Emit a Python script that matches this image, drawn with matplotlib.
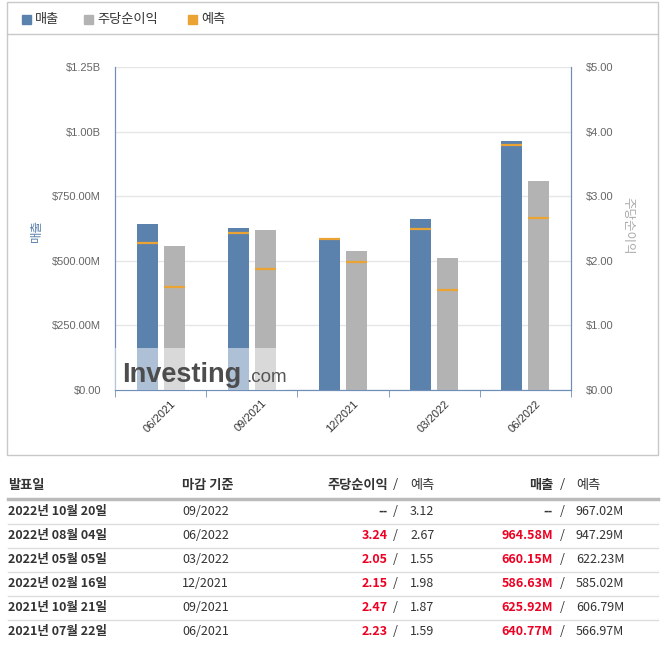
import numpy as np
import matplotlib.pyplot as plt
import matplotlib.transforms as mtransforms
from matplotlib.patches import Rectangle
from matplotlib.lines import Line2D

plt.rcParams['font.family'] = ['Noto Sans CJK KR', 'DejaVu Sans']

# quarterly results (revenue in millions of $, EPS in $)
periods = ['06/2021', '09/2021', '12/2021', '03/2022', '06/2022']
revenue = [640.77, 625.92, 586.63, 660.15, 964.58]
revenue_fc = [566.97, 606.79, 585.02, 622.23, 947.29]
eps = [2.23, 2.47, 2.15, 2.05, 3.24]
eps_fc = [1.59, 1.87, 1.98, 1.55, 2.67]

# table rows (newest first)
tbl_dates = ['2022년 10월 20일', '2022년 08월 04일', '2022년 05월 05일',
             '2022년 02월 16일', '2021년 10월 21일', '2021년 07월 22일']
tbl_period = ['09/2022', '06/2022', '03/2022', '12/2021', '09/2021', '06/2021']
tbl_eps = ['--', '3.24', '2.05', '2.15', '2.47', '2.23']
tbl_eps_fc = ['3.12', '2.67', '1.55', '1.98', '1.87', '1.59']
tbl_rev = ['--', '964.58M', '660.15M', '586.63M', '625.92M', '640.77M']
tbl_rev_fc = ['967.02M', '947.29M', '622.23M', '585.02M', '606.79M', '566.97M']

W, H = 661, 647
blue = '#5b82ad'
gray = '#b3b3b3'
orange = '#eba433'
spine_c = '#6f8fb8'
latin = ['Liberation Sans', 'DejaVu Sans']

fig = plt.figure(figsize=(W / 100, H / 100), dpi=100)

def fx(px):
    return px / W

def fy(py):
    return 1 - py / H

# panel border and legend separator
fig.patches.append(Rectangle((fx(7), fy(455)), fx(651), fy(2) - fy(455),
                             transform=fig.transFigure, fill=False, ec='#c8c8c8', lw=1))
fig.add_artist(Line2D([fx(7), fx(658)], [fy(34), fy(34)], color='#c8c8c8', lw=1))

# legend
for x0, c, lab in [(22, blue, '매출'), (84, gray, '주당순이익'), (188, orange, '예측')]:
    fig.patches.append(Rectangle((fx(x0), fy(24)), fx(9), fy(15) - fy(24),
                                 transform=fig.transFigure, color=c))
    fig.text(fx(x0 + 13), fy(19.5), lab, fontsize=9.5, color='#333333', va='center')

ax = fig.add_axes([fx(115), fy(390), fx(571) - fx(115), fy(67) - fy(390)])
ax2 = ax.twinx()

x = np.arange(len(periods))
bw = 0.23
off = 0.148

ax.bar(x - off, revenue, width=bw, color=blue, zorder=2)
ax.hlines(revenue_fc, x - off - bw / 2, x - off + bw / 2, color=orange, lw=1.6, zorder=3)
ax2.bar(x + off, eps, width=bw, color=gray, zorder=2)
ax2.hlines(eps_fc, x + off - bw / 2, x + off + bw / 2, color=orange, lw=1.6, zorder=3)

ax.set_xlim(-0.5, len(periods) - 0.5)
ax.set_ylim(0, 1250)
ax2.set_ylim(0, 5)
ax.set_yticks([0, 250, 500, 750, 1000, 1250])
ax.set_yticklabels(['$0.00', '$250.00M', '$500.00M', '$750.00M', '$1.00B', '$1.25B'])
ax2.set_yticks([0, 1, 2, 3, 4, 5])
ax2.set_yticklabels(['$%.2f' % v for v in range(6)])
ax.grid(axis='y', color='#e6e6e6', lw=1, zorder=0)
ax.set_axisbelow(True)

for a in (ax, ax2):
    for s in a.spines.values():
        s.set_color(spine_c)
    a.spines['top'].set_visible(False)
    a.tick_params(axis='y', length=0)
ax.tick_params(axis='y', labelsize=8, labelcolor='#666666', pad=10)
ax2.tick_params(axis='y', labelsize=8, labelcolor='#666666', pad=11)
for t in ax.get_yticklabels() + ax2.get_yticklabels():
    t.set_family(latin)

ax.set_xticks(x)
ax.set_xticklabels(periods, rotation=45, ha='right', rotation_mode='anchor',
                   fontsize=8, color='#333333', family=latin)
ax.tick_params(axis='x', which='major', length=0, pad=6)
ax.set_xticks(np.arange(-0.5, len(periods)), minor=True)
ax.tick_params(axis='x', which='minor', length=5, color=spine_c)
shift = mtransforms.ScaledTranslation(10 / 100, 0, fig.dpi_scale_trans)
for t in ax.get_xticklabels():
    t.set_transform(t.get_transform() + shift)

fig.text(fx(36), fy(230), '매출', rotation=90, fontsize=9, color=blue, ha='center', va='center')
fig.text(fx(628), fy(226), '주당순이익', rotation=270, fontsize=9, color='#aaaaaa',
         ha='center', va='center')

# watermark
ax2.add_patch(Rectangle((0, 0), (285 - 115) / 456, (390 - 348) / 323, transform=ax2.transAxes,
                        color='white', alpha=0.5, lw=0, zorder=5))
fig.text(fx(122), fy(382), 'Investing', fontsize=19.5, fontweight='bold', color='#4d4d4d',
         family=latin, zorder=6)
fig.text(fx(246), fy(382), '.com', fontsize=13.5, color='#555555', family=latin, zorder=6)

# table
hdr_y = 485
hs = 9.5
fig.text(fx(8), fy(hdr_y), '발표일', fontsize=hs, fontweight='bold', color='#333333', va='center')
fig.text(fx(182), fy(hdr_y), '마감 기준', fontsize=hs, fontweight='bold', color='#333333', va='center')
fig.text(fx(388), fy(hdr_y), '주당순이익', fontsize=hs, fontweight='bold', color='#333333',
         va='center', ha='right')
fig.text(fx(393), fy(hdr_y), '/', fontsize=hs, color='#333333', va='center')
fig.text(fx(410), fy(hdr_y), '예측', fontsize=hs, color='#333333', va='center')
fig.text(fx(553), fy(hdr_y), '매출', fontsize=hs, fontweight='bold', color='#333333',
         va='center', ha='right')
fig.text(fx(560), fy(hdr_y), '/', fontsize=hs, color='#333333', va='center')
fig.text(fx(576), fy(hdr_y), '예측', fontsize=hs, color='#333333', va='center')
fig.add_artist(Line2D([fx(8), fx(658)], [fy(499), fy(499)], color='#bbbbbb', lw=2.5))

rs = 9
for i in range(len(tbl_dates)):
    ry = 511.5 + 24 * i
    if i > 0:
        fig.add_artist(Line2D([fx(8), fx(658)], [fy(ry - 12), fy(ry - 12)], color='#dddddd', lw=1))
    fig.text(fx(8), fy(ry), tbl_dates[i], fontsize=rs, fontweight='bold', color='#333333', va='center')
    fig.text(fx(182), fy(ry), tbl_period[i], fontsize=rs, color='#333333', va='center')
    c = '#333333' if tbl_eps[i] == '--' else '#ee0022'
    fig.text(fx(388), fy(ry), tbl_eps[i], fontsize=rs, fontweight='bold', color=c,
             va='center', ha='right')
    fig.text(fx(393), fy(ry), '/', fontsize=rs, color='#333333', va='center')
    fig.text(fx(410), fy(ry), tbl_eps_fc[i], fontsize=rs, color='#333333', va='center')
    c = '#333333' if tbl_rev[i] == '--' else '#ee0022'
    fig.text(fx(553), fy(ry), tbl_rev[i], fontsize=rs, fontweight='bold', color=c,
             va='center', ha='right')
    fig.text(fx(560), fy(ry), '/', fontsize=rs, color='#333333', va='center')
    fig.text(fx(576), fy(ry), tbl_rev_fc[i], fontsize=rs, color='#333333', va='center')

fig.savefig('out.png', dpi=100)
